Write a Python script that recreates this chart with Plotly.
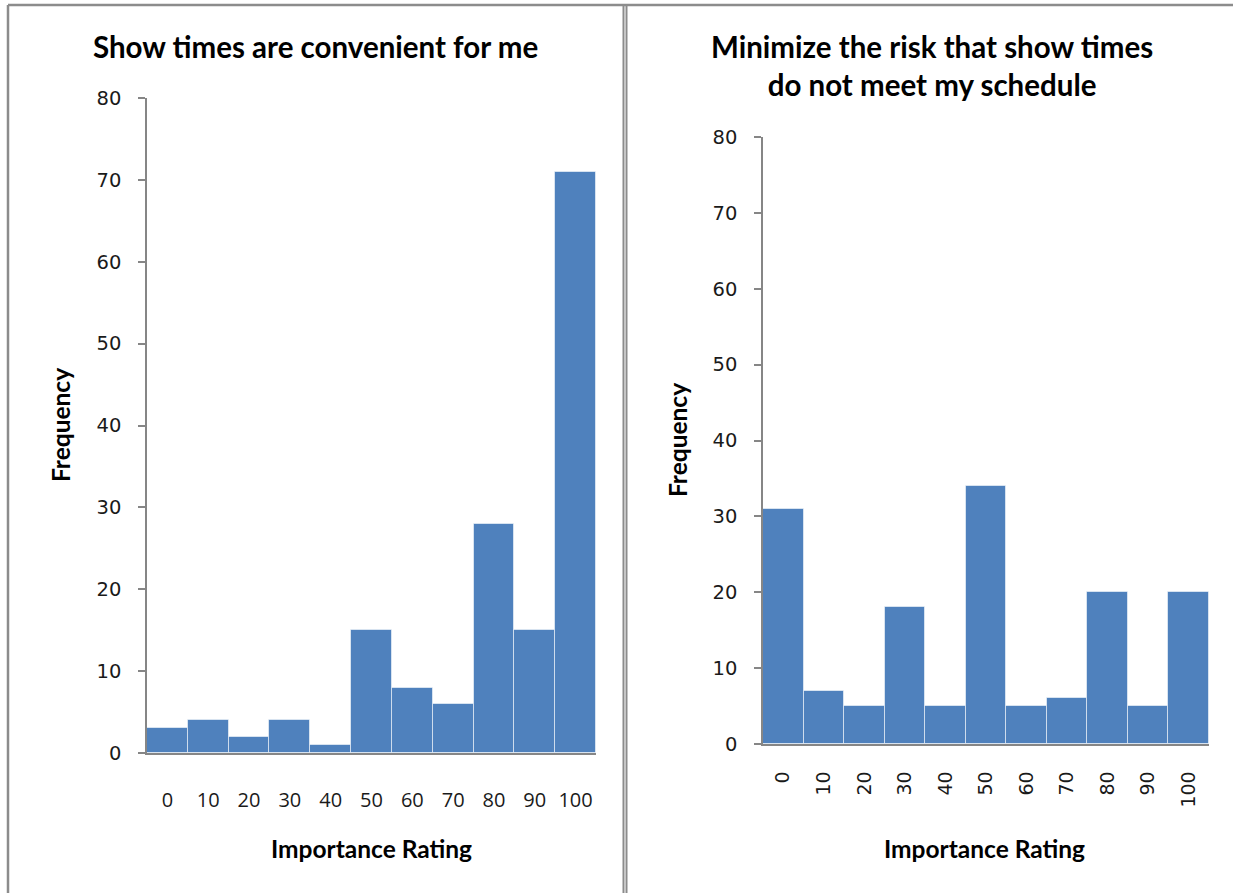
import plotly.graph_objects as go

# Importance rating bins (shared by both histograms)
ratings = ["0", "10", "20", "30", "40", "50", "60", "70", "80", "90", "100"]

# Frequencies per rating bin
convenient_freq = [3, 4, 2, 4, 1, 15, 8, 6, 28, 15, 71]
risk_freq = [31, 7, 5, 18, 5, 34, 5, 6, 20, 5, 20]

left_title = "Show times are convenient for me"
right_title = "Minimize the risk that show times<br>do not meet my schedule"
x_title = "Importance Rating"
y_title = "Frequency"
y_ticks = [0, 10, 20, 30, 40, 50, 60, 70, 80]

W, H = 1233, 893
BAR = "#4F81BD"
AXIS = "#868686"
FRAME = "#8C8C8C"


def px(x):
    return x / W


def py(y):
    return 1 - y / H


fig = go.Figure()
fig.add_trace(go.Bar(x=ratings, y=convenient_freq, marker=dict(color=BAR, line=dict(color="rgba(255,255,255,0.55)", width=1)),
                     xaxis="x", yaxis="y", showlegend=False))
fig.add_trace(go.Bar(x=ratings, y=risk_freq, marker=dict(color=BAR, line=dict(color="rgba(255,255,255,0.55)", width=1)),
                     xaxis="x2", yaxis="y2", showlegend=False))

tick_font = dict(family="Open Sans, DejaVu Sans, sans-serif", size=20, color="#1a1a1a")
rot_tick_font = dict(family="DejaVu Sans, sans-serif", size=19, color="#1a1a1a")
ytick_font = dict(family="DejaVu Sans, sans-serif", size=19.5, color="#1a1a1a")

common_x = dict(type="category", range=[-0.5, 10.5], showgrid=False, zeroline=False,
                showline=True, linecolor=AXIS, linewidth=1.5, ticks="",
                fixedrange=True, automargin=False)
common_y = dict(range=[0, 80], tickvals=y_ticks, showgrid=False, zeroline=False,
                showline=True, linecolor=AXIS, linewidth=1.5, ticks="outside", ticklen=7,
                tickcolor=AXIS, tickwidth=1.5, tickfont=ytick_font, ticklabelstandoff=13,
                fixedrange=True, automargin=False)

fig.update_layout(
    width=W, height=H,
    margin=dict(l=0, r=0, t=0, b=0, pad=0, autoexpand=False),
    paper_bgcolor="white", plot_bgcolor="white",
    bargap=0,
    xaxis=dict(common_x, domain=[px(147), px(596)], anchor="y", tickfont=tick_font, ticklabelstandoff=28),
    yaxis=dict(common_y, domain=[py(753), py(98)], anchor="x"),
    xaxis2=dict(common_x, domain=[px(763), px(1209)], anchor="y2", tickfont=rot_tick_font,
                tickangle=-90, ticklabelstandoff=18),
    yaxis2=dict(common_y, domain=[py(744), py(137)], anchor="x2"),
)

title_font = dict(family="Lato, Open Sans, sans-serif", size=29.5, color="black", weight="bold")
label_font = dict(family="Lato, Open Sans, sans-serif", size=24.5, color="black", weight="bold")

annotations = [
    dict(text=left_title, x=px(315), y=py(47), font=title_font),
    dict(text=right_title, x=px(932), y=py(66), font=title_font),
    dict(text=x_title, x=px(371), y=py(848), font=label_font),
    dict(text=x_title, x=px(985), y=py(848), font=label_font),
    dict(text=y_title, x=px(60), y=py(425), font=label_font, textangle=-90),
    dict(text=y_title, x=px(678), y=py(440), font=label_font, textangle=-90),
]
for a in annotations:
    fig.add_annotation(xref="paper", yref="paper", showarrow=False,
                       xanchor="center", yanchor="middle", **a)

# Panel frames
fig.add_shape(type="line", xref="paper", yref="paper", x0=px(8), x1=px(8), y0=py(5), y1=py(900),
              line=dict(color=FRAME, width=2.5))
fig.add_shape(type="line", xref="paper", yref="paper", x0=px(8), x1=1, y0=py(5), y1=py(5),
              line=dict(color=FRAME, width=2.5))
fig.add_shape(type="line", xref="paper", yref="paper", x0=px(623.5), x1=px(623.5), y0=py(5), y1=py(900),
              line=dict(color=FRAME, width=2))
fig.add_shape(type="line", xref="paper", yref="paper", x0=px(626.5), x1=px(626.5), y0=py(5), y1=py(900),
              line=dict(color=FRAME, width=2))

fig.write_html("out.html")
